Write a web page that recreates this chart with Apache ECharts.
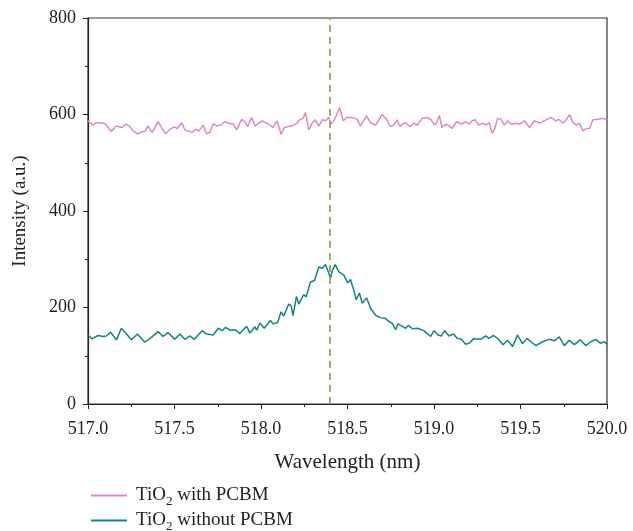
<!DOCTYPE html>
<html>
<head>
<meta charset="utf-8">
<script src="https://cdn.jsdelivr.net/npm/echarts@6/dist/echarts.min.js"></script>
<style>
  html, body { margin: 0; padding: 0; background: #fff; }
  #chart { width: 633px; height: 531px; }
</style>
</head>
<body>
<div id="chart"></div>
<script>
// wavelength (nm) / intensity pairs
let withWl = [517.000, 517.015, 517.029, 517.048, 517.077, 517.100, 517.120, 517.135, 517.164, 517.193,
    517.222, 517.241, 517.261, 517.286, 517.309, 517.332, 517.347, 517.371, 517.405, 517.425,
    517.448, 517.473, 517.498, 517.517, 517.541, 517.560, 517.579, 517.602, 517.622, 517.641,
    517.666, 517.685, 517.705, 517.724, 517.743, 517.768, 517.792, 517.811, 517.840, 517.859,
    517.888, 517.907, 517.923, 517.946, 517.965, 517.988, 518.008, 518.025, 518.044, 518.069,
    518.093, 518.116, 518.135, 518.160, 518.189, 518.208, 518.224, 518.243, 518.257, 518.276,
    518.295, 518.314, 518.334, 518.353, 518.372, 518.392, 518.405, 518.425, 518.455, 518.475,
    518.498, 518.527, 518.556, 518.575, 518.610, 518.633, 518.662, 518.700, 518.726, 518.749,
    518.768, 518.788, 518.803, 518.817, 518.836, 518.861, 518.884, 518.903, 518.932, 518.961,
    518.984, 519.004, 519.015, 519.031, 519.046, 519.069, 519.089, 519.104, 519.131, 519.156,
    519.185, 519.204, 519.220, 519.239, 519.258, 519.282, 519.301, 519.320, 519.336, 519.349,
    519.368, 519.388, 519.407, 519.426, 519.446, 519.471, 519.494, 519.523, 519.552, 519.581,
    519.610, 519.648, 519.677, 519.703, 519.722, 519.745, 519.764, 519.784, 519.803, 519.822,
    519.841, 519.861, 519.880, 519.899, 519.919, 519.948, 519.977, 520.000];
let withInt = [587, 582, 578, 583, 583, 581, 571, 565, 576, 573,
    580, 575, 566, 560, 564, 566, 576, 563, 585, 573,
    560, 569, 574, 571, 583, 568, 566, 563, 569, 566,
    578, 560, 563, 581, 576, 578, 585, 582, 580, 568,
    590, 585, 575, 594, 576, 582, 587, 583, 580, 573,
    587, 559, 573, 575, 578, 582, 589, 592, 604, 568,
    582, 589, 576, 589, 587, 594, 580, 590, 614, 587,
    594, 594, 590, 576, 597, 583, 578, 600, 590, 575,
    578, 589, 575, 580, 583, 575, 582, 578, 592, 594,
    589, 578, 583, 598, 573, 580, 576, 571, 585, 580,
    585, 580, 587, 589, 578, 582, 578, 583, 561, 569,
    592, 590, 578, 587, 580, 582, 580, 587, 573, 587,
    582, 589, 594, 587, 590, 582, 589, 600, 583, 578,
    582, 566, 571, 571, 589, 590, 592, 589];

let withoutWl = [517.000, 517.023, 517.058, 517.087, 517.106, 517.131, 517.164, 517.193, 517.222, 517.251,
    517.286, 517.328, 517.367, 517.405, 517.434, 517.463, 517.502, 517.531, 517.560, 517.589,
    517.614, 517.660, 517.685, 517.724, 517.753, 517.776, 517.795, 517.821, 517.850, 517.878,
    517.917, 517.936, 517.965, 517.975, 517.994, 518.019, 518.054, 518.070, 518.096, 518.116,
    518.131, 518.160, 518.174, 518.185, 518.205, 518.218, 518.247, 518.261, 518.286, 518.309,
    518.334, 518.353, 518.373, 518.382, 518.402, 518.411, 518.429, 518.450, 518.479, 518.502,
    518.517, 518.537, 518.550, 518.569, 518.585, 518.610, 518.633, 518.662, 518.691, 518.720,
    518.739, 518.759, 518.778, 518.791, 518.817, 518.836, 518.852, 518.875, 518.904, 518.942,
    518.958, 518.981, 519.000, 519.023, 519.043, 519.062, 519.087, 519.112, 519.135, 519.158,
    519.183, 519.203, 519.228, 519.270, 519.299, 519.318, 519.344, 519.367, 519.400, 519.425,
    519.454, 519.483, 519.512, 519.537, 519.560, 519.589, 519.627, 519.666, 519.695, 519.724,
    519.753, 519.782, 519.811, 519.845, 519.878, 519.907, 519.936, 519.961, 519.984, 520.000];
let withoutInt = [143, 135, 142, 140, 141, 149, 133, 157, 145, 133,
    145, 128, 138, 150, 140, 148, 134, 145, 134, 141,
    134, 152, 145, 143, 157, 152, 159, 153, 154, 146,
    161, 147, 160, 153, 168, 157, 173, 166, 169, 191,
    182, 207, 204, 183, 223, 207, 227, 222, 253, 256,
    284, 281, 289, 288, 261, 275, 289, 274, 267, 251,
    258, 235, 216, 230, 209, 220, 199, 184, 179, 177,
    171, 167, 154, 166, 161, 157, 163, 156, 157, 152,
    147, 140, 152, 143, 141, 152, 141, 145, 136, 134,
    124, 126, 135, 134, 141, 136, 142, 136, 123, 132,
    119, 143, 125, 136, 129, 121, 129, 134, 131, 139,
    121, 132, 123, 133, 121, 129, 134, 126, 129, 124];

let peakWl = 518.4;
let seriesNames = ['TiO{sub|2} with PCBM', 'TiO{sub|2} without PCBM'];

function pairs(xs, ys) {
    return xs.map(function (x, i) {
        return [x, ys[i]];
    });
}

let chart = echarts.init(document.getElementById('chart'));
let font = '"Liberation Serif", "DejaVu Serif", serif';

function legendFor(name, top) {
    return {
        left: 86,
        top: top,
        itemGap: 0,
        itemWidth: 36,
        itemHeight: 2,
        icon: 'rect',
        data: [name],
        textStyle: {
            fontFamily: font,
            fontSize: 19,
            color: '#222',
            padding: [0, 0, 0, 4],
            rich: {
                sub: { fontFamily: font, fontSize: 13, color: '#222', verticalAlign: 'bottom', padding: [12, 0, 0, 0] }
            }
        }
    };
}

let option = {
    backgroundColor: '#fff',
    animation: false,
    textStyle: { fontFamily: font },
    grid: {
        left: 88,
        right: 26,
        top: 18,
        bottom: 127,
        show: true,
        borderColor: '#333',
        borderWidth: 1.2
    },
    legend: [legendFor(seriesNames[0], 481), legendFor(seriesNames[1], 506)],
    xAxis: {
        type: 'value',
        min: 517,
        max: 520,
        interval: 0.5,
        name: 'Wavelength (nm)',
        nameLocation: 'middle',
        nameGap: 48,
        nameTextStyle: { fontFamily: font, fontSize: 21, color: '#222' },
        axisLine: { lineStyle: { color: '#222', width: 1.2 } },
        axisTick: { show: true, inside: false, length: 5, lineStyle: { color: '#222' } },
        minorTick: { show: true, splitNumber: 2, length: 3, lineStyle: { color: '#222' } },
        splitLine: { show: false },
        axisLabel: {
            fontFamily: font,
            fontSize: 18,
            color: '#222',
            margin: 16,
            formatter: function (v) { return v.toFixed(1); }
        }
    },
    yAxis: {
        type: 'value',
        min: 0,
        max: 800,
        interval: 200,
        name: 'Intensity (a.u.)',
        nameLocation: 'middle',
        nameGap: 58,
        nameTextStyle: { fontFamily: font, fontSize: 19, color: '#222' },
        axisLine: { show: true, lineStyle: { color: '#222', width: 1.2 } },
        axisTick: { show: true, inside: false, length: 5, lineStyle: { color: '#222' } },
        minorTick: { show: true, splitNumber: 2, length: 3, lineStyle: { color: '#222' } },
        splitLine: { show: false },
        axisLabel: { fontFamily: font, fontSize: 18, color: '#222', margin: 12 }
    },
    series: [
        {
            name: seriesNames[0],
            type: 'line',
            data: pairs(withWl, withInt),
            showSymbol: false,
            symbol: 'none',
            color: '#d98ac6',
            lineStyle: { width: 1.5, color: '#d98ac6' },
            markLine: {
                silent: true,
                symbol: 'none',
                label: { show: false },
                lineStyle: { color: '#a8a46c', type: [7, 5], width: 2 },
                data: [{ xAxis: peakWl }]
            }
        },
        {
            name: seriesNames[1],
            type: 'line',
            data: pairs(withoutWl, withoutInt),
            showSymbol: false,
            symbol: 'none',
            color: '#138383',
            lineStyle: { width: 1.5, color: '#138383' }
        }
    ]
};

chart.setOption(option);
</script>
</body>
</html>
